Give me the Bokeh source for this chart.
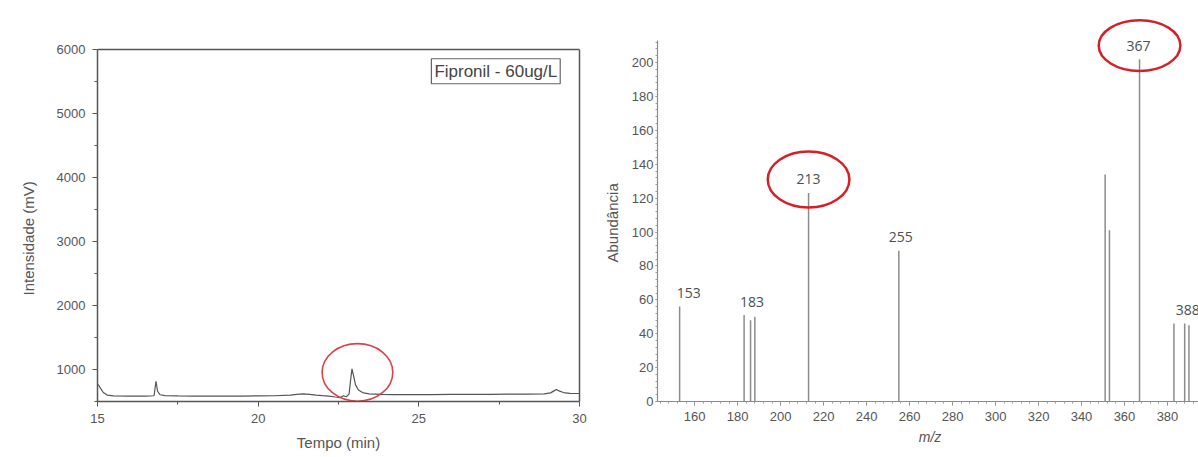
from bokeh.plotting import figure
from bokeh.layouts import row
from bokeh.models import (Range1d, FixedTicker, SingleIntervalTicker, Label, ColumnDataSource,
                          LinearAxis, Span, Title)
from bokeh.core.properties import value
from bokeh.embed import file_html
from bokeh.resources import INLINE

# ---------------- data: chromatogram ----------------
chrom_time = [15.00, 15.05, 15.10, 15.18, 15.30, 15.50, 16.00, 16.50, 16.76, 16.82,
              16.87, 16.95, 17.10, 17.50, 18.00, 18.50, 19.00, 19.50, 20.00, 20.50,
              21.00, 21.20, 21.40, 21.60, 21.80, 22.00, 22.20, 22.40, 22.55, 22.65,
              22.75, 22.83, 22.88, 22.92, 22.97, 23.03, 23.12, 23.25, 23.45, 23.80,
              24.20, 24.80, 25.40, 26.00, 26.60, 27.20, 27.80, 28.40, 28.90, 29.10,
              29.22, 29.28, 29.36, 29.50, 29.70, 30.00]
chrom_mv = [770, 745, 700, 640, 600, 588, 585, 584, 590, 816,
            660, 605, 592, 588, 585, 583, 586, 585, 587, 590,
            600, 612, 618, 610, 600, 592, 585, 570, 560, 590,
            575, 620, 850, 1009, 900, 760, 680, 640, 620, 610,
            606, 608, 607, 610, 612, 611, 614, 616, 618, 635,
            670, 687, 665, 640, 628, 625]
chrom_xticks = [15, 20, 25, 30]
chrom_xminor = [17.5, 22.5, 27.5]
chrom_yticks = [1000, 2000, 3000, 4000, 5000, 6000]
chrom_yminor = [500, 1500, 2500, 3500, 4500, 5500]
chrom_xmin, chrom_xmax = 15, 30
chrom_ymin, chrom_ymax = 500, 6000
chrom_title = "Fipronil - 60ug/L"
chrom_xlabel = "Tempo (min)"
chrom_ylabel = "Intensidade (mV)"
chrom_mark_x = [23.09]
chrom_mark_y = [955]
chrom_mark_w = [2.2]
chrom_mark_h = [900]

# ---------------- data: mass spectrum ----------------
mz = [153, 183, 186, 188, 213, 255, 351, 353, 367, 383, 388, 390]
abund = [56, 51, 48, 50, 123, 89, 134, 101, 202, 46, 46, 45]
label_mz = [153, 183, 213, 255, 367, 388]
label_text = ["153", "183", "213", "255", "367", "388"]
label_dx = [9, 8, 0, 2, -1, 3]
highlight_mz = [213, 367]
highlight_w = [38, 38]
highlight_h = [33, 30]
spec_xmin, spec_xmax = 142.7, 396.3
spec_axis_top = 213
spec_xlabel = "m/z"
spec_ylabel = "Abundância"

# shared frame geometry (row aligns the frames of both plots)
FRAME_TOP, FRAME_H, BOTTOM = 10, 391, 56
box_px = 352  # pixels between 500 and 6000 in the chromatogram box
chrom_top = chrom_ymax + (FRAME_H - box_px) * (chrom_ymax - chrom_ymin) / box_px

# ---------------- left: chromatogram ----------------
AX = "#555555"
W1, L1 = 482, 97
p1 = figure(frame_width=W1, frame_height=FRAME_H,
            min_border_left=L1, min_border_right=15, min_border_top=FRAME_TOP,
            min_border_bottom=BOTTOM,
            x_range=Range1d(chrom_xmin, chrom_xmax), y_range=Range1d(chrom_ymin, chrom_top),
            output_backend="svg", toolbar_location=None)
p1.grid.visible = False
p1.outline_line_color = None
p1.background_fill_color = "white"
p1.border_fill_color = "white"

p1.line(chrom_time, chrom_mv, line_color="#555555", line_width=1.2)
p1.ellipse(x=chrom_mark_x, y=chrom_mark_y, width=chrom_mark_w, height=chrom_mark_h,
           fill_color=None, line_color="#d8444a", line_width=1.6)

p1.xaxis.ticker = FixedTicker(ticks=chrom_xticks, minor_ticks=chrom_xminor)
p1.yaxis.ticker = FixedTicker(ticks=chrom_yticks, minor_ticks=chrom_yminor)
p1.yaxis.bounds = (chrom_ymin, chrom_ymax)
p1.xaxis.axis_label = chrom_xlabel

right_ax = LinearAxis(ticker=FixedTicker(ticks=[]), bounds=(chrom_ymin, chrom_ymax),
                      major_label_text_font_size="0px", axis_line_color=AX, axis_line_width=1.5)
p1.add_layout(right_ax, "right")
p1.add_layout(Span(location=chrom_ymax, dimension="width", line_color=AX, line_width=1.5))

for ax in (p1.xaxis[0], p1.yaxis[0]):
    ax.axis_line_color = AX
    ax.axis_line_width = 1.5
    ax.major_tick_line_color = AX
    ax.minor_tick_line_color = AX
    ax.major_tick_out = 5
    ax.major_tick_in = 0
    ax.minor_tick_out = 3
    ax.minor_tick_in = 0
    ax.major_label_text_font = "Liberation Sans"
    ax.major_label_text_font_size = "13px"
    ax.major_label_text_color = "#555555"
    ax.axis_label_text_font = "Liberation Sans"
    ax.axis_label_text_font_size = "15px"
    ax.axis_label_text_font_style = "normal"
    ax.axis_label_text_color = "#555555"
p1.xaxis[0].major_label_standoff = 7
p1.xaxis[0].axis_label_standoff = 8
p1.yaxis[0].major_label_standoff = 7

# y-axis title as a side title; starts ~106 px above the frame bottom
p1.add_layout(Title(text=chrom_ylabel, align="left", offset=106, standoff=34,
                    text_font="Liberation Sans", text_font_size="15px",
                    text_font_style="normal", text_color="#555555"), "left")

p1.add_layout(Label(x=29.4, y=5660, text=chrom_title, text_align="right", text_baseline="middle",
                    text_font="Liberation Sans", text_font_size="17px", text_color="#444444",
                    border_line_color="#666666", border_line_width=1.2,
                    background_fill_color="white", padding=3))

# ---------------- right: mass spectrum ----------------
spec_top = 230.7
W2, L2 = 545, 59
p2 = figure(frame_width=W2, frame_height=FRAME_H,
            min_border_left=L2, min_border_right=0, min_border_top=FRAME_TOP,
            min_border_bottom=BOTTOM,
            x_range=Range1d(spec_xmin, spec_xmax), y_range=Range1d(0, spec_top),
            output_backend="svg", toolbar_location=None)
p2.grid.visible = False
p2.outline_line_color = None
p2.background_fill_color = "white"
p2.border_fill_color = "white"

p2.segment(x0=mz, y0=[0] * len(mz), x1=mz, y1=abund, line_color="#8c8c8c", line_width=1.5)

ab_of = dict(zip(mz, abund))
lab_src = ColumnDataSource(dict(x=label_mz, y=[ab_of[m] + 8 for m in label_mz],
                                text=label_text, dx=label_dx))
p2.text(x="x", y="y", text="text", x_offset="dx", source=lab_src,
        text_align="center", text_baseline="middle",
        text_font=value("Open Sans"), text_font_size="14px", text_color="#4a4f55")

hl_src = ColumnDataSource(dict(x=highlight_mz, y=[ab_of[m] + 8 for m in highlight_mz],
                               w=highlight_w, h=highlight_h))
p2.ellipse(x="x", y="y", width="w", height="h", source=hl_src,
           fill_color=None, line_color="#d42027", line_width=2.5)

p2.xaxis.ticker = SingleIntervalTicker(interval=20, num_minor_ticks=5)
p2.yaxis.ticker = SingleIntervalTicker(interval=20, num_minor_ticks=5)
p2.yaxis.bounds = (0, spec_axis_top)
p2.xaxis.axis_label = spec_xlabel
for ax in (p2.xaxis[0], p2.yaxis[0]):
    ax.axis_line_color = "#8a8a8a"
    ax.axis_line_width = 1.2
    ax.major_tick_line_color = "#8a8a8a"
    ax.minor_tick_line_color = "#9a9a9a"
    ax.major_tick_in = 0
    ax.minor_tick_in = 0
    ax.major_label_text_font = "Liberation Sans"
    ax.major_label_text_font_size = "13px"
    ax.major_label_text_color = "#555555"
    ax.axis_label_text_font = "Liberation Sans"
    ax.axis_label_text_font_size = "15px"
    ax.axis_label_text_color = "#555555"
p2.xaxis.major_tick_out = 4
p2.xaxis.minor_tick_out = 2
p2.xaxis.major_label_standoff = 6
p2.xaxis.axis_label_standoff = 5
p2.xaxis.axis_label_text_font_style = "italic"
p2.xaxis.axis_label_text_font_size = "14px"
p2.yaxis.major_tick_out = 2
p2.yaxis.minor_tick_out = 2
p2.yaxis.major_label_standoff = 2

p2.add_layout(Title(text=spec_ylabel, align="left", offset=139, standoff=15,
                    text_font="Liberation Sans", text_font_size="15px",
                    text_font_style="normal", text_color="#555555"), "left")

layout = row(p1, p2)
open("out.html", "w").write(file_html(layout, INLINE))
